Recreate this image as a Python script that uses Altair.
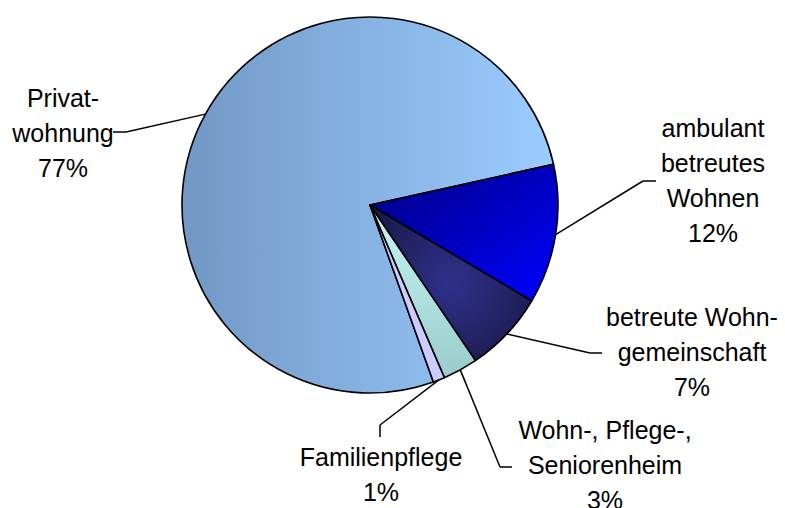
import math
import altair as alt
import pandas as pd

# ---- data -------------------------------------------------------------
categories = [
    "Privatwohnung",
    "ambulant betreutes Wohnen",
    "betreute Wohngemeinschaft",
    "Wohn-, Pflege-, Seniorenheim",
    "Familienpflege",
]
labels = [
    "Privat-\nwohnung\n77%",
    "ambulant\nbetreutes\nWohnen\n12%",
    "betreute Wohn-\ngemeinschaft\n7%",
    "Wohn-, Pflege-,\nSeniorenheim\n3%",
    "Familienpflege\n1%",
]
values = [77, 12, 7, 3, 1]

# ---- layout (page pixels) for labels (first line) and leader lines ----
label_x = [63, 713, 692, 605, 381]
label_y = [99, 129, 318, 431, 458]
elbow_x = [126, 643, 590, 500, 380]
elbow_y = [132, 181, 353, 467, 425]
end_x = [113, 656, 602, 512, 380]
end_y = [132, 181, 353, 467, 437]

# ---- geometry ---------------------------------------------------------
R = 188
START = math.radians(160.3)
CX, CY = 370, 205          # pie centre on the page
W, H = 769, 500
OX, OY = CX - 8, CY - 8    # pie centre inside the chart

df = pd.DataFrame({
    "category": categories,
    "label": labels,
    "value": values,
    "order": list(range(len(values))),
    "lx": [x - CX for x in label_x],
    "ly": [CY - y for y in label_y],
    "bx": [x - CX for x in elbow_x],
    "by": [CY - y for y in elbow_y],
    "tx": [x - CX for x in end_x],
    "ty": [CY - y for y in end_y],
})

fills = [
    alt.LinearGradient(gradient="linear", x1=0, y1=0, x2=1, y2=0,
                       stops=[alt.GradientStop(color="#7298c5", offset=0),
                              alt.GradientStop(color="#9acdff", offset=1)]),
    alt.LinearGradient(gradient="linear", x1=0, y1=0, x2=1, y2=1,
                       stops=[alt.GradientStop(color="#000080", offset=0),
                              alt.GradientStop(color="#0000ff", offset=1)]),
    alt.RadialGradient(gradient="radial", x1=0.5, y1=0.5, r1=0, x2=0.5, y2=0.5, r2=0.6,
                       stops=[alt.GradientStop(color="#30308c", offset=0),
                              alt.GradientStop(color="#1a1a4c", offset=1)]),
    alt.LinearGradient(gradient="linear", x1=0, y1=0, x2=0, y2=1,
                       stops=[alt.GradientStop(color="#c8f4f4", offset=0),
                              alt.GradientStop(color="#99cccc", offset=1)]),
    "#ccccff",
]

xs = alt.Scale(domain=[-OX, W - OX], nice=False, zero=False)
ys = alt.Scale(domain=[OY - H, OY], nice=False, zero=False)
ts = alt.Scale(domain=[0, 100], range=[START, START + 2 * math.pi])

base = (
    alt.Chart(df)
    .transform_window(cum="sum(value)", sort=[alt.SortField("order")], frame=[None, 0])
    .transform_calculate(start="datum.cum - datum.value")
    .transform_calculate(ang=f"{START} + (datum.cum - datum.value / 2) / 100 * 2 * PI")
    .transform_calculate(ex=f"{R} * sin(datum.ang)", ey=f"{R} * cos(datum.ang)")
)

layers = []
for cat, fill in zip(categories, fills):
    layers.append(
        base.transform_filter(alt.datum.category == cat)
        .mark_arc(outerRadius=R, color=fill, stroke="black", strokeWidth=1.6,
                  strokeJoin="round")
        .encode(
            theta=alt.Theta("start:Q", scale=ts),
            theta2="cum:Q",
            x=alt.XDatum(0, type="quantitative", scale=xs, axis=None),
            y=alt.YDatum(0, type="quantitative", scale=ys, axis=None),
        )
    )

seg1 = base.mark_rule(color="black", strokeWidth=1.5).encode(
    x=alt.X("ex:Q", scale=xs, axis=None),
    y=alt.Y("ey:Q", scale=ys, axis=None),
    x2="bx:Q",
    y2="by:Q",
)
seg2 = base.mark_rule(color="black", strokeWidth=1.5).encode(
    x=alt.X("bx:Q", scale=xs, axis=None),
    y=alt.Y("by:Q", scale=ys, axis=None),
    x2="tx:Q",
    y2="ty:Q",
)
text = base.mark_text(
    font="Liberation Sans", fontSize=25, lineBreak="\n", lineHeight=35,
    align="center", baseline="middle", color="black",
).encode(
    x=alt.X("lx:Q", scale=xs, axis=None),
    y=alt.Y("ly:Q", scale=ys, axis=None),
    text="label:N",
)

chart = (
    alt.layer(*layers, seg1, seg2, text)
    .properties(width=W, height=H, autosize="none", padding=0)
    .configure_view(stroke=None)
)

chart.save("out.html", embed_options={"renderer": "svg", "actions": False})
